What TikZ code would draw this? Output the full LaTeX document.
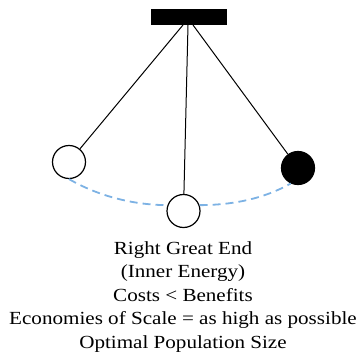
\documentclass[tikz,border=0pt]{standalone}
\usepackage{fontspec}
\setmainfont[FakeStretch=1.14]{Liberation Serif}
\definecolor{arcblue}{RGB}{125,178,228}
\begin{document}
\begin{tikzpicture}[x=1pt,y=-1pt,
  ball/.style={circle,draw=black,line width=1.2pt,minimum size=33pt,inner sep=0pt},
  string/.style={draw=black,line width=1pt},
  swing/.style={draw=arcblue,line width=1.8pt,dash pattern=on 8pt off 5pt},
  lbl/.style={anchor=base,inner sep=0pt,font=\fontsize{18.5}{23.5}\selectfont}]
\useasboundingbox (0,0) rectangle (361,358);
\node[fill=black,minimum width=76pt,minimum height=16pt,inner sep=0pt] (bar) at (188.5,17) {};
\coordinate (p1) at (183,25);
\coordinate (p2) at (188,25);
\coordinate (p3) at (193,25);
\node[ball,fill=white] (ballL) at (69,162) {};
\node[ball,fill=white] (ballM) at (183.5,211) {};
\node[ball,fill=black] (ballR) at (298,168) {};
\draw[string] (p1) -- (ballL);
\draw[string] (p2) -- (ballM);
\draw[string] (p3) -- (ballR);
\draw[swing] (ballL.south) .. controls (100,197) and (135,205) .. (ballM.160);
\draw[swing] (ballM.20) .. controls (235,205) and (265,198) .. (ballR.245);
\node[lbl] (t1) at (183,254) {Right Great End};
\node[lbl] (t2) at (183,277.5) {(Inner Energy)};
\node[lbl] (t3) at (183,301) {Costs < Benefits};
\node[lbl] (t4) at (183,324.5) {Economies of Scale = as high as possible};
\node[lbl] (t5) at (183,348) {Optimal Population Size};
\end{tikzpicture}
\end{document}
